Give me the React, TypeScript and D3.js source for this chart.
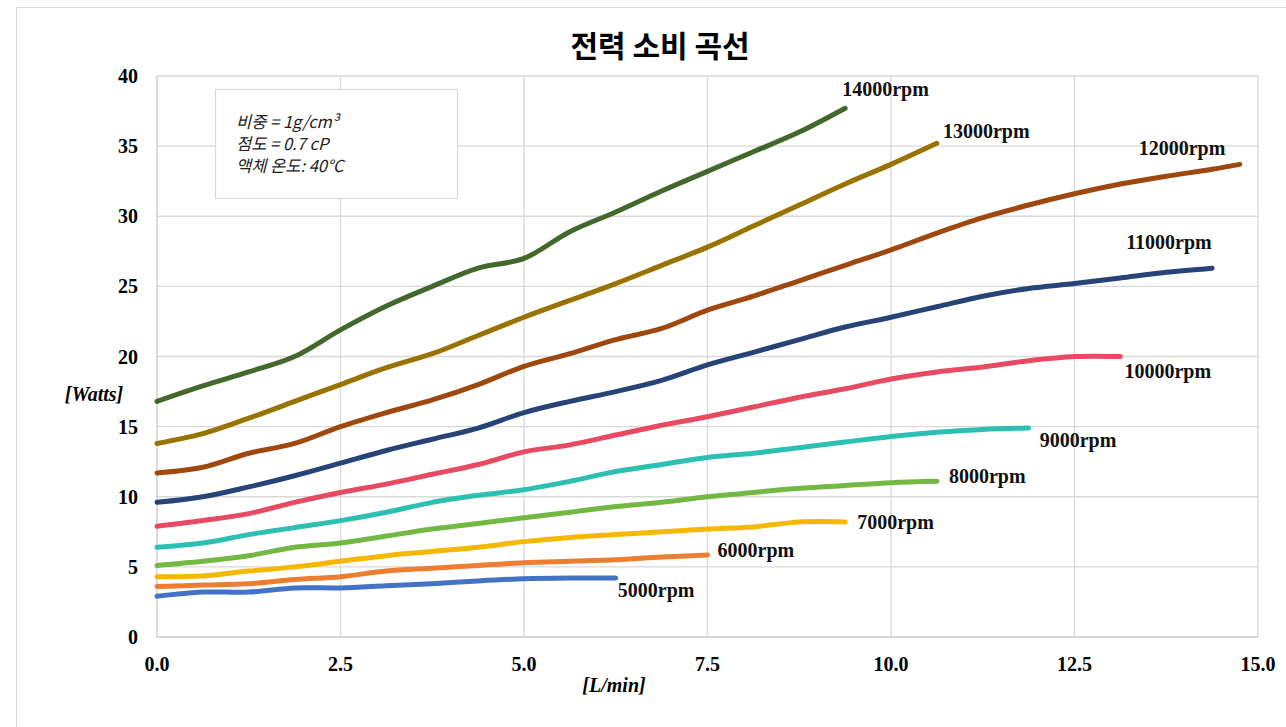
import * as d3 from 'd3';

// flow rate steps [L/min] shared by all curves (last one is the 12000rpm tail)
const flow = [0, 0.625, 1.25, 1.875, 2.5, 3.125, 3.75, 4.375, 5, 5.625, 6.25, 6.875, 7.5,
  8.125, 8.75, 9.375, 10, 10.625, 11.25, 11.875, 12.5, 13.125, 13.75, 14.375, 14.75];

const rpm5000 = [2.9, 3.2, 3.2, 3.5, 3.5, 3.65, 3.8, 4.0, 4.15, 4.2, 4.2];
const rpm6000 = [3.6, 3.7, 3.8, 4.1, 4.3, 4.7, 4.9, 5.1, 5.3, 5.4, 5.5, 5.7, 5.85];
const rpm7000 = [4.3, 4.35, 4.7, 5.0, 5.4, 5.8, 6.1, 6.4, 6.8, 7.1, 7.3, 7.5, 7.7, 7.85, 8.2, 8.2];
const rpm8000 = [5.1, 5.4, 5.8, 6.4, 6.7, 7.2, 7.7, 8.1, 8.5, 8.9, 9.3, 9.6, 10.0, 10.3, 10.6, 10.8, 11.0, 11.1];
const rpm9000 = [6.4, 6.7, 7.3, 7.8, 8.3, 8.9, 9.6, 10.1, 10.5, 11.1, 11.8, 12.3, 12.8, 13.1, 13.5,
  13.9, 14.3, 14.6, 14.8, 14.9];
const rpm10000 = [7.9, 8.3, 8.8, 9.6, 10.3, 10.9, 11.6, 12.3, 13.2, 13.7, 14.4, 15.1, 15.7, 16.4, 17.1,
  17.7, 18.4, 18.9, 19.25, 19.7, 20.0, 20.0];
const rpm11000 = [9.6, 10.0, 10.7, 11.5, 12.4, 13.3, 14.1, 14.9, 16.0, 16.8, 17.5, 18.3, 19.4, 20.3,
  21.2, 22.1, 22.8, 23.55, 24.3, 24.85, 25.2, 25.6, 26.0, 26.3];
const rpm12000 = [11.7, 12.1, 13.1, 13.8, 15.0, 16.0, 16.9, 18.0, 19.3, 20.2, 21.2, 22.0, 23.3, 24.3,
  25.4, 26.5, 27.6, 28.8, 29.9, 30.8, 31.6, 32.3, 32.85, 33.35, 33.7];
const rpm13000 = [13.8, 14.5, 15.6, 16.8, 18.0, 19.2, 20.2, 21.5, 22.8, 24.0, 25.2, 26.5, 27.8, 29.3,
  30.8, 32.3, 33.7, 35.2];
const rpm14000 = [16.8, 17.9, 18.9, 20.0, 21.9, 23.6, 25.0, 26.3, 27.0, 28.9, 30.3, 31.8, 33.2, 34.6, 36.0, 37.7];

const speeds = ['5000rpm', '6000rpm', '7000rpm', '8000rpm', '9000rpm', '10000rpm', '11000rpm',
  '12000rpm', '13000rpm', '14000rpm'];
const powers = [rpm5000, rpm6000, rpm7000, rpm8000, rpm9000, rpm10000, rpm11000, rpm12000, rpm13000, rpm14000];

const xTicks = [0, 2.5, 5, 7.5, 10, 12.5, 15];
const yTicks = [0, 5, 10, 15, 20, 25, 30, 35, 40];
const notes = ['비중 = 1g/cm³', '점도 = 0.7 cP', '액체 온도: 40℃'];

const colors = ['#4472c4', '#ed7d31', '#f5b800', '#72b843', '#2dbfb2', '#e84a62', '#264478',
  '#9e480e', '#997300', '#43682b'];
// where each rpm label sits relative to its curve end
const labelShift: [number, number][] = [
  [2, 19], [10, 2], [12, 7], [12, 2], [11, 19], [4, 21], [-86, -19], [-101, -9], [6, -5], [-3, -12],
];

const width = 1286;
const height = 727;
const margin = { left: 157, right: 28, top: 76, bottom: 90 };

const serif = '"Liberation Serif", "Times New Roman", serif';
const kr = '"Noto Sans CJK KR", "Noto Sans", sans-serif';

const App = (): JSX.Element => {
  const x = d3.scaleLinear().domain([0, 15]).range([margin.left, width - margin.right]);
  const y = d3.scaleLinear().domain([0, 40]).range([height - margin.bottom, margin.top]);

  const line = d3.line<[number, number]>()
    .x(d => x(d[0]))
    .y(d => y(d[1]))
    .curve(d3.curveCatmullRom.alpha(0.5));

  const grid = '#d9d9d9';

  return (
    <svg width={width} height={height}
      style={{ position: 'absolute', left: 0, top: 0, background: '#fff' }}>
      <rect x={16.5} y={7.5} width={width + 20} height={height + 20} fill="#fff" stroke={grid} />

      <text x={660} y={57} textAnchor="middle" fontFamily={kr} fontWeight="bold" fontSize={30}>
        전력 소비 곡선
      </text>

      {yTicks.map(t => (
        <g key={`y${t}`}>
          <line x1={x(0)} x2={x(15)} y1={y(t)} y2={y(t)} stroke={t === 0 ? '#c8c8c8' : grid} strokeWidth={1.3} />
          <text x={138} y={y(t) + 7} textAnchor="end" fontFamily={serif} fontWeight="bold" fontSize={20}>
            {t}
          </text>
        </g>
      ))}
      {xTicks.map(t => (
        <g key={`x${t}`}>
          <line x1={x(t)} x2={x(t)} y1={y(0)} y2={y(40)} stroke={t === 0 ? '#c8c8c8' : grid} strokeWidth={1.3} />
          <text x={x(t)} y={671} textAnchor="middle" fontFamily={serif} fontWeight="bold" fontSize={20}>
            {t.toFixed(1)}
          </text>
        </g>
      ))}

      <text x={94} y={401} textAnchor="middle" fontFamily={serif} fontWeight="bold" fontStyle="italic" fontSize={20}>
        [Watts]
      </text>
      <text x={614} y={692} textAnchor="middle" fontFamily={serif} fontWeight="bold" fontStyle="italic" fontSize={20}>
        [L/min]
      </text>

      <rect x={215.5} y={89.5} width={242} height={109} fill="#fff" stroke={grid} strokeWidth={1.2} />
      {notes.map((n, i) => (
        <text key={n} x={236} y={128 + i * 22} fontFamily={kr} fontStyle="italic" fontSize={16.5} fill="#222">
          {n}
        </text>
      ))}

      {powers.map((vals, i) => {
        const pts = vals.map((v, j) => [flow[j], v] as [number, number]);
        const last = pts[pts.length - 1];
        return (
          <g key={speeds[i]}>
            <path d={line(pts) ?? ''} fill="none" stroke={colors[i]} strokeWidth={5}
              strokeLinecap="round" strokeLinejoin="round" />
            <text x={x(last[0]) + labelShift[i][0]} y={y(last[1]) + labelShift[i][1]}
              fontFamily={serif} fontWeight="bold" fontSize={20} fill="#111">
              {speeds[i]}
            </text>
          </g>
        );
      })}
    </svg>
  );
};

export default App;
